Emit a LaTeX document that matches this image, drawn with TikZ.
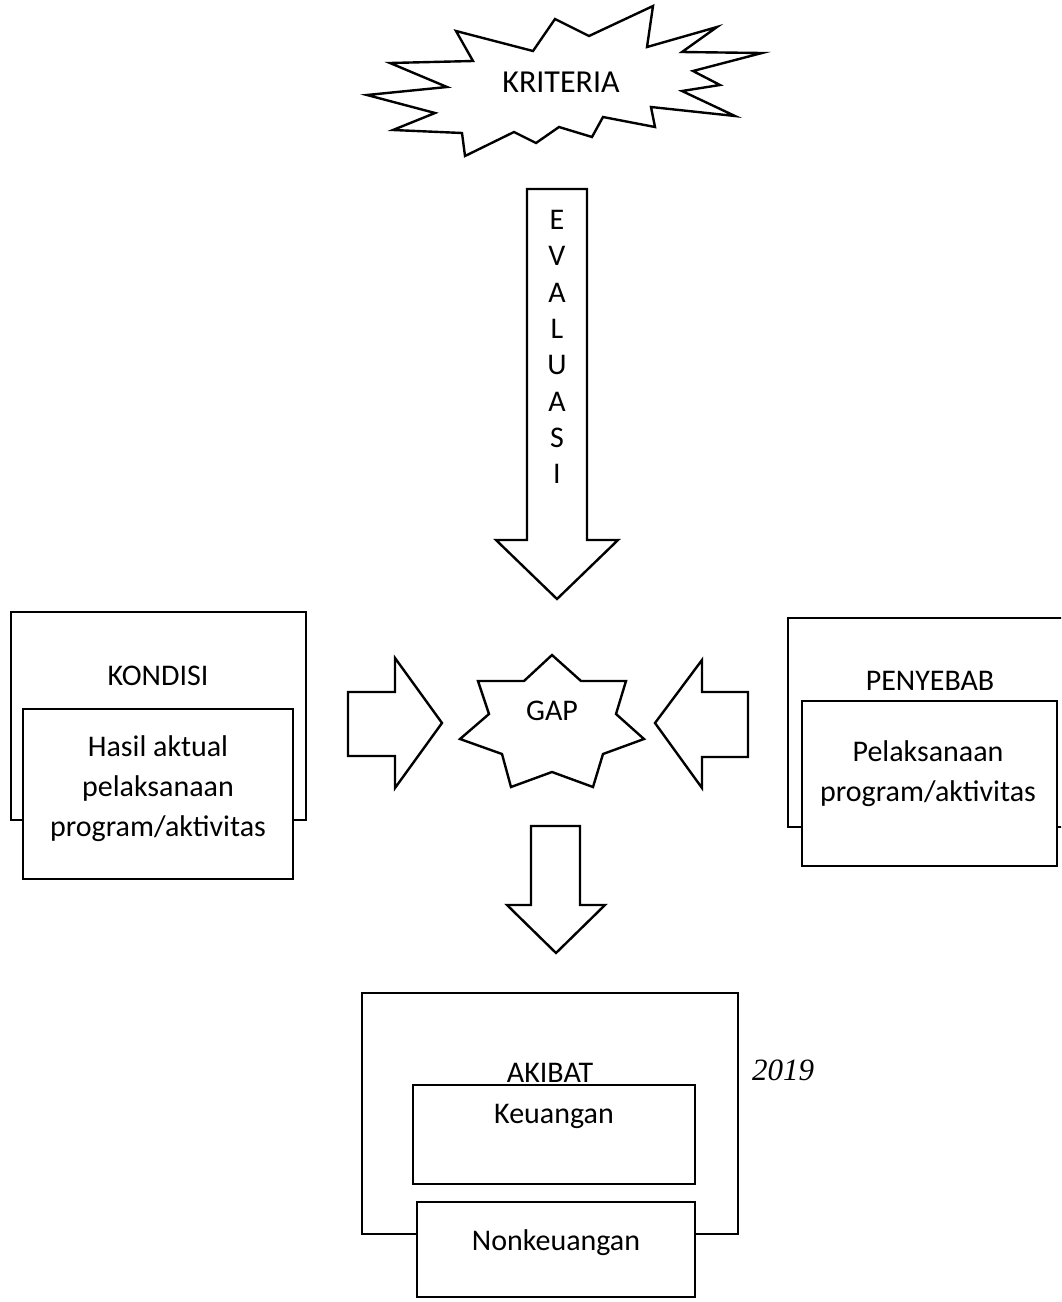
\documentclass[tikz,border=0pt]{standalone}
\usepackage{fontspec}
\setmainfont{Carlito}
\newfontfamily\timesfam{Liberation Serif}
\begin{document}
\begin{tikzpicture}[x=0.5pt,y=-0.5pt,
  boxshape/.style={draw,line width=1.3pt,fill=white,inner sep=0pt},
  shapeline/.style={draw,line width=1.2pt,fill=white,line join=miter},
  txt/.style={font=\fontsize{15}{20}\selectfont,anchor=base,inner sep=0pt},
  mtxt/.style={font=\fontsize{15}{20}\selectfont,align=center,inner sep=0pt,anchor=center}]
\useasboundingbox (0,0) rectangle (1061,1302);
\clip (0,0) rectangle (1061,1302);
\fill[white] (0,0) rectangle (1061,1302);

% KRITERIA starburst
\path[shapeline] (555,19) -- (589,36) -- (653,6) -- (647,47) -- (717,27) -- (682,52)
  -- (762,53) -- (693,71) -- (720,85) -- (682,91) -- (735,116) -- (651,107)
  -- (655,127) -- (603,117) -- (592,137) -- (559,127) -- (536,143) -- (514,132)
  -- (465,156) -- (462,133) -- (393,130) -- (435,113) -- (367,95) -- (447,87)
  -- (390,63) -- (473,61) -- (456,31) -- (533,51) -- cycle;
\node[txt,font=\fontsize{16}{19}\selectfont] (krit) at (561,92) {KRITERIA};

% EVALUASI arrow
\path[shapeline] (527,189) -- (587,189) -- (587,540) -- (618,540) -- (557,599)
  -- (496,540) -- (527,540) -- cycle;
\foreach \l/\y [count=\i] in {E/229,V/265,A/302,L/338,U/374,A/411,S/447,I/483}
  \node[txt] (ev\i) at (557,\y) {\l};

% GAP star
\path[shapeline] (552,655) -- (581,681) -- (626,681) -- (616,714) -- (644,739)
  -- (603,754) -- (593,787) -- (552,772) -- (511,787) -- (502,754) -- (460,739)
  -- (489,714) -- (478,681) -- (524,681) -- cycle;
\node[txt] (gap) at (552,720) {GAP};

% right-pointing arrow
\path[shapeline] (348,692) -- (395,692) -- (395,658) -- (442,723) -- (395,788)
  -- (395,756) -- (348,756) -- cycle;
% left-pointing arrow
\path[shapeline] (748,692) -- (702,692) -- (702,660) -- (655,723) -- (702,788)
  -- (702,757) -- (748,757) -- cycle;
% down arrow
\path[shapeline] (531,826) -- (580,826) -- (580,905) -- (605,905) -- (556,953)
  -- (507,905) -- (531,905) -- cycle;

% KONDISI
\node[boxshape,minimum width=147.5pt,minimum height=104pt] (kondout) at (158.5,716) {};
\node[txt] (kondlab) at (158,685) {KONDISI};
\node[boxshape,minimum width=135pt,minimum height=85pt] (kondin) at (158,794) {};
\node[mtxt] (kondtxt) at (158,789) {Hasil aktual\\pelaksanaan\\program/aktivitas};

% PENYEBAB
\node[boxshape,minimum width=142pt,minimum height=104.5pt] (penout) at (930,722.5) {};
\node[txt] (penlab) at (930,690) {PENYEBAB};
\node[boxshape,minimum width=127.5pt,minimum height=82.5pt] (penin) at (929.5,783.5) {};
\node[mtxt] (pentxt) at (928,774) {Pelaksanaan\\program/aktivitas};

% AKIBAT
\node[boxshape,minimum width=188pt,minimum height=120.5pt] (akout) at (550,1113.5) {};
\node[txt] (aklab) at (550,1082) {AKIBAT};
\node[boxshape,minimum width=141pt,minimum height=49.5pt] (keu) at (554,1134.5) {};
\node[txt] (keutxt) at (554,1123) {Keuangan};
\node[boxshape,minimum width=139pt,minimum height=47.5pt] (nonkeu) at (556,1249.5) {};
\node[txt] (nonkeutxt) at (556,1250) {Nonkeuangan};

% year
\node[anchor=base,inner sep=0pt,font=\timesfam\itshape\fontsize{15.5}{18}\selectfont] (year) at (783,1080) {2019};
\end{tikzpicture}
\end{document}
